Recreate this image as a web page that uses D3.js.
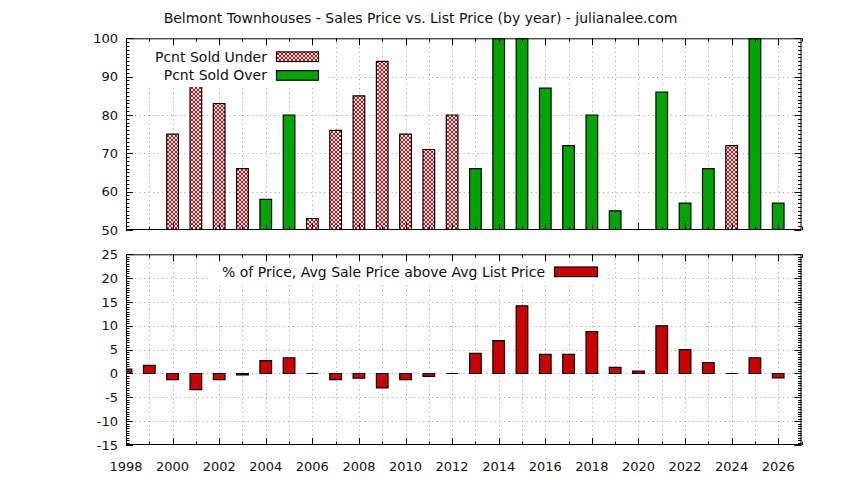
<!DOCTYPE html>
<html><head><meta charset="utf-8">
<script src="https://cdn.jsdelivr.net/npm/d3@7"></script>
<style>
html,body{margin:0;padding:0;background:#fff;}
svg{display:block;}
text{font-family:"DejaVu Sans",sans-serif;font-size:14px;fill:#111;}
text.tick{font-size:13px;}
</style></head>
<body>
<script>
const years = [1998,1999,2000,2001,2002,2003,2004,2005,2006,2007,2008,2009,2010,2011,2012,2013,2014,2015,2016,2017,2018,2019,2020,2021,2022,2023,2024,2025,2026];
const pctSoldUnder = [null,null,75,88,83,66,null,null,53,76,85,94,75,71,80,null,null,null,null,null,null,null,null,null,null,null,72,null,null];
const pctSoldOver  = [null,null,null,null,null,null,58,80,null,null,null,null,null,null,null,66,100,100,87,72,80,55,null,86,57,66,null,100,57];
const avgSaleAboveList = [0.9,1.7,-1.3,-3.4,-1.3,-0.3,2.7,3.3,0,-1.3,-1.0,-3.0,-1.3,-0.6,0,4.2,6.9,14.2,4.0,4.0,8.8,1.3,0.5,10.0,5.0,2.3,0,3.3,-0.9];
const topYTicks = [50,60,70,80,90,100];
const botYTicks = [-15,-10,-5,0,5,10,15,20,25];
const xTickLabels = [1998,2000,2002,2004,2006,2008,2010,2012,2014,2016,2018,2020,2022,2024,2026];
const titleText = "Belmont Townhouses - Sales Price vs. List Price (by year) - julianalee.com";
const legendTop = ["Pcnt Sold Under","Pcnt Sold Over"];
const legendBot = "% of Price, Avg Sale Price above Avg List Price";

const W = 844, H = 480;
const svg = d3.select("body").append("svg").attr("width",W).attr("height",H);
const defs = svg.append("defs");
const pat = defs.append("pattern").attr("id","xhatch").attr("patternUnits","userSpaceOnUse")
  .attr("width",4).attr("height",4);
pat.append("rect").attr("width",4).attr("height",4).attr("fill","#fff");
pat.append("path").attr("d","M0,0L4,4M4,0L0,4").attr("stroke","#f00000").attr("stroke-width",1);

const x = d3.scaleLinear().domain([1998,2027]).range([126,801.5]);
const bw = x(1998.5)-x(1998);
const yTop = d3.scaleLinear().domain([50,100]).range([230,38.3]);
const yBot = d3.scaleLinear().domain([-15,25]).range([445,254.3]);

const majorLen = 7, minorLen = 3.5;

function panel(y, yTicks, yMinorStep, id){
  const [y0,y1] = y.range();
  const [x0,x1] = x.range();
  const g = svg.append("g");
  defs.append("clipPath").attr("id",id).append("rect")
    .attr("x",x0).attr("y",y1).attr("width",x1-x0).attr("height",y0-y1);
  const grid = g.append("g").attr("stroke","#a8a8a8").attr("stroke-width",1).attr("stroke-dasharray","1.2,3.3");
  years.forEach(yr=>{
    if (yr===1998) return;
    grid.append("line").attr("x1",Math.round(x(yr))+0.5).attr("x2",Math.round(x(yr))+0.5).attr("y1",y1).attr("y2",y0);
  });
  yTicks.forEach(v=>{
    if (v===y.domain()[0]||v===y.domain()[1]) return;
    grid.append("line").attr("x1",x0).attr("x2",x1).attr("y1",Math.round(y(v))+0.5).attr("y2",Math.round(y(v))+0.5);
  });
  return {g, x0,x1,y0,y1};
}

function frame(p, y, yTicks, yMinorStep){
  const {g,x0,x1,y0,y1} = p;
  const t = g.append("g").attr("stroke","#000").attr("stroke-width",1);
  years.concat([2027]).forEach(yr=>{
    const len = (yr%2===0)?majorLen:minorLen;
    const xx = Math.round(x(yr))+0.5;
    t.append("line").attr("x1",xx).attr("x2",xx).attr("y1",y0).attr("y2",y0-len);
    t.append("line").attr("x1",xx).attr("x2",xx).attr("y1",y1).attr("y2",y1+len);
  });
  const [d0,d1] = y.domain();
  for (let v=d0; v<=d1+1e-9; v+=yMinorStep){
    const isMajor = yTicks.some(tv=>Math.abs(tv-v)<1e-9);
    const len = isMajor?majorLen:minorLen;
    const yy = Math.round(y(v))+0.5;
    t.append("line").attr("x1",x0).attr("x2",x0+len).attr("y1",yy).attr("y2",yy);
    t.append("line").attr("x1",x1).attr("x2",x1-len).attr("y1",yy).attr("y2",yy);
  }
  g.append("rect").attr("x",x0+0.5).attr("y",y1+0.5).attr("width",x1-x0-1).attr("height",y0-y1-1)
    .attr("fill","none").attr("stroke","#000").attr("stroke-width",1);
  yTicks.forEach(v=>{
    g.append("text").attr("class","tick").attr("x",x0-8).attr("y",y(v)).attr("dy","0.36em").attr("text-anchor","end").text(v);
  });
}

function barPath(xc, yv, ybase){
  const a = xc-bw/2, b = xc+bw/2;
  return `M${a},${ybase}H${b}V${yv}H${a}Z`;
}

// ---- top panel
const pT = panel(yTop, topYTicks, 1, "clipTop");
const barsT = pT.g.append("g").attr("clip-path","url(#clipTop)");
years.forEach((yr,i)=>{
  if (pctSoldUnder[i]!=null)
    barsT.append("path").attr("d",barPath(x(yr), yTop(pctSoldUnder[i]), yTop(50)))
      .attr("fill","url(#xhatch)").attr("stroke","#000").attr("stroke-width",1.2);
  if (pctSoldOver[i]!=null)
    barsT.append("path").attr("d",barPath(x(yr), yTop(pctSoldOver[i]), yTop(50)))
      .attr("fill","#00a600").attr("stroke","#000").attr("stroke-width",1.2);
});
const lgT = pT.g.append("g");
lgT.append("rect").attr("x",134).attr("y",41).attr("width",191).attr("height",46).attr("fill","#fff");
[[legendTop[0],"url(#xhatch)",56.7],[legendTop[1],"#00a600",75.4]].forEach(([txt,fill,cy])=>{
  lgT.append("text").attr("x",267).attr("y",cy).attr("dy","0.36em").attr("text-anchor","end").text(txt);
  lgT.append("rect").attr("x",276.5).attr("y",cy-4.8).attr("width",42).attr("height",9.6)
    .attr("fill",fill).attr("stroke","#000").attr("stroke-width",1.2);
});
frame(pT, yTop, topYTicks, 1);

// ---- bottom panel
const pB = panel(yBot, botYTicks, 0.5, "clipBot");
const barsB = pB.g.append("g").attr("clip-path","url(#clipBot)");
years.forEach((yr,i)=>{
  const v = avgSaleAboveList[i];
  barsB.append("path").attr("d",barPath(x(yr), yBot(v), yBot(0)))
    .attr("fill","#cc0000").attr("stroke","#000").attr("stroke-width",1.2);
});
const lgB = pB.g.append("g");
lgB.append("rect").attr("x",208).attr("y",257).attr("width",396).attr("height",26).attr("fill","#fff");
lgB.append("text").attr("x",545).attr("y",271.5).attr("dy","0.36em").attr("text-anchor","end").text(legendBot);
lgB.append("rect").attr("x",554.5).attr("y",267).attr("width",43).attr("height",9.6)
  .attr("fill","#cc0000").attr("stroke","#000").attr("stroke-width",1.2);
frame(pB, yBot, botYTicks, 0.5);

xTickLabels.forEach(v=>{
  svg.append("text").attr("class","tick").attr("x",x(v)).attr("y",466).attr("dy","0.36em").attr("text-anchor","middle").text(v);
});
svg.append("text").attr("x",420.5).attr("y",18).attr("dy","0.36em").attr("text-anchor","middle").text(titleText);
</script>
</body></html>
